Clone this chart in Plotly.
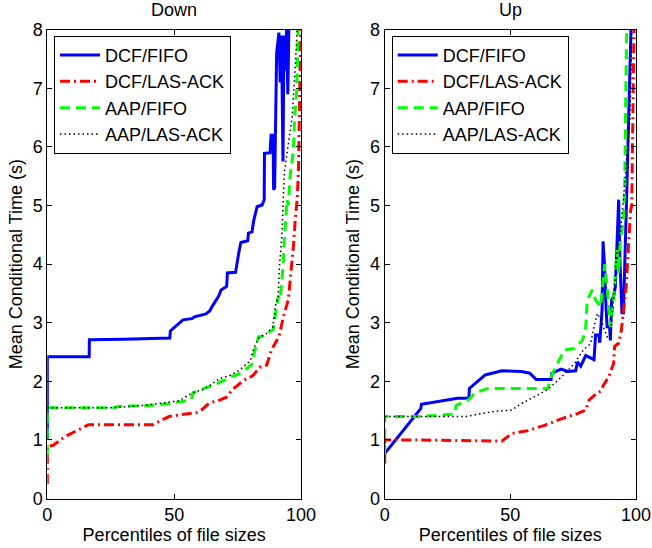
import plotly.graph_objects as go

# ---------------- Data: mean conditional time vs. file-size percentile ----------------
series_names = ["DCF/FIFO", "DCF/LAS-ACK", "AAP/FIFO", "AAP/LAS-ACK"]
panel_titles = ["Down", "Up"]
x_ticks = [0, 50, 100]
y_ticks = [0, 1, 2, 3, 4, 5, 6, 7, 8]

# Down direction
down_dcf_fifo_x = [0, 0, 16.5, 16.6, 30, 48.3, 48.5, 51, 53.5, 57, 58, 62.5, 64, 65, 66.5, 67.5, 68.5,
                   70.7, 71, 74.2, 75.5, 76.3, 79, 79.3, 80.7, 81.3, 82.7, 84.7, 85.5, 85.6, 87.8, 88.2,
                   89.0, 89.2, 89.6, 90.4, 91.3, 91.8, 92.3, 92.9, 93.3, 93.8, 94.3, 94.8, 95.2]
down_dcf_fifo_y = [1.0, 2.42, 2.42, 2.71, 2.72, 2.74, 2.86, 2.95, 3.05, 3.07, 3.1, 3.15, 3.2, 3.28, 3.38,
                   3.45, 3.56, 3.62, 3.85, 3.86, 4.2, 4.37, 4.4, 4.53, 4.55, 4.73, 4.98, 5.01, 5.1, 5.89,
                   5.9, 6.2, 6.2, 5.27, 5.3, 7.6, 7.95, 7.1, 7.9, 5.75, 7.9, 7.3, 8.0, 6.9, 8.0]

down_dcf_las_x = [0, 0, 2.4, 5, 8, 11, 14, 16.2, 30, 41.7, 45, 48, 52.2, 57, 59, 61.4, 63, 65.4, 68,
                  70.6, 72, 73.2, 75, 77.1, 79, 81.1, 83.7, 86.5, 88.4, 90.5, 91.7, 93, 95, 96, 97,
                  97.8, 98.5, 99, 99.4, 99.7, 99.9]
down_dcf_las_y = [0.25, 0.89, 0.91, 1.0, 1.08, 1.15, 1.22, 1.26, 1.26, 1.26, 1.34, 1.4, 1.43, 1.45,
                  1.47, 1.53, 1.6, 1.65, 1.68, 1.73, 1.8, 1.87, 1.93, 2.01, 2.05, 2.1, 2.24, 2.28,
                  2.54, 2.7, 2.82, 3.1, 3.39, 3.8, 4.3, 4.8, 5.1, 5.6, 6.5, 7.3, 8.0]

down_aap_fifo_x = [0, 0, 10, 26, 28, 31, 37.8, 40, 44.4, 48, 52.2, 55, 56.8, 57.5, 60, 62.8, 66, 68.1,
                   70, 72, 74, 76, 78, 80.5, 81.9, 83.2, 85, 86.4, 89, 90.3, 91, 91.8, 92.9, 93.6,
                   94.5, 95, 95.7, 97, 97.5, 98.3, 98.9]
down_aap_fifo_y = [0.75, 1.55, 1.55, 1.55, 1.57, 1.58, 1.58, 1.59, 1.6, 1.62, 1.65, 1.67, 1.7, 1.81,
                   1.84, 1.9, 1.93, 1.99, 2.02, 2.07, 2.1, 2.14, 2.2, 2.28, 2.54, 2.76, 2.77, 2.82,
                   2.88, 3.22, 3.45, 3.39, 3.96, 4.53, 5.1, 5.0, 5.5, 5.93, 6.5, 6.95, 8.0]

down_aap_las_x = [0, 26, 40, 48, 52, 57, 62, 68, 72, 76, 80, 81.5, 83.7, 86, 88.9, 90, 91, 91.5, 92.5,
                  93, 93.5, 95.5, 96.5, 97.5, 98.5]
down_aap_las_y = [1.55, 1.55, 1.6, 1.64, 1.67, 1.8, 1.87, 2.05, 2.1, 2.2, 2.35, 2.58, 2.76, 2.8, 2.93,
                  3.3, 3.45, 3.96, 4.5, 5.1, 5.58, 6.2, 6.5, 7.2, 8.0]

# Up direction
up_dcf_fifo_x = [0, 14.4, 14.6, 29, 33.5, 33.7, 40, 46.6, 54.4, 57.7, 60.3, 66.2, 66.5, 70.2, 72.8, 76,
                 76.7, 78, 80, 83.3, 83.9, 85.2, 85.6, 86.5, 86.9, 87.5, 88, 88.5, 89.5, 89.8, 90.3,
                 91.1, 91.8, 92.4, 93.1, 93.6, 94.4, 95, 95.6, 96.0, 96.5, 97.0, 97.5, 98.0]
up_dcf_fifo_y = [0.77, 1.54, 1.61, 1.71, 1.71, 1.88, 2.11, 2.18, 2.17, 2.14, 2.03, 2.03, 2.14, 2.21,
                 2.17, 2.18, 2.33, 2.26, 2.44, 2.37, 2.79, 2.79, 2.66, 3.22, 4.39, 3.96, 3.33, 2.93,
                 2.93, 2.7, 3.39, 3.45, 3.62, 4.27, 5.1, 4.07, 3.17, 3.17, 3.96, 4.7, 5.5, 6.37, 7.5,
                 8.0]

up_dcf_las_x = [0, 0, 13.7, 30, 46.6, 50.5, 57, 63.6, 70.2, 76.7, 80, 81.3, 84.5, 85.9, 87.1, 89.2,
                91.1, 91.5, 93.1, 94.2, 95, 96.1, 97, 97.9, 98.3, 98.9, 99.2]
up_dcf_las_y = [0.6, 1.0, 1.0, 0.99, 0.98, 1.11, 1.16, 1.25, 1.36, 1.45, 1.51, 1.68, 1.8, 1.83, 1.94,
                2.08, 2.31, 2.6, 2.65, 2.88, 3.22, 3.62, 4.3, 4.93, 5.0, 7.5, 8.0]

up_aap_fifo_x = [0, 0, 14, 27.6, 28.5, 33.5, 36.1, 41.4, 50.5, 64.9, 66.5, 69.5, 71.5, 75.4, 78.7, 80,
                 80.6, 82.6, 83.9, 85.9, 87.2, 87.6, 88.5, 89.2, 89.8, 91.1, 92.4, 93.1, 93.7, 95,
                 95.5, 95.8, 96.3]
up_aap_fifo_y = [0.75, 1.4, 1.4, 1.44, 1.59, 1.69, 1.81, 1.88, 1.88, 1.88, 2.11, 2.36, 2.54, 2.56,
                 2.7, 2.93, 3.39, 3.56, 3.39, 3.27, 3.9, 4.0, 3.62, 3.2, 2.93, 3.39, 4.24, 3.85, 4.36,
                 4.75, 5.3, 6.5, 8.0]

up_aap_las_x = [0, 32, 36, 44, 50.5, 54.4, 59.7, 64.9, 70, 75.4, 79.3, 81.9, 83.3, 84.6, 86, 88.5,
                89.8, 91.1, 92.4, 93.7, 95, 96, 97.6, 98.3]
up_aap_las_y = [1.4, 1.4, 1.43, 1.49, 1.51, 1.62, 1.74, 1.86, 2.06, 2.3, 2.55, 2.64, 2.93, 3.16, 3.05,
                2.76, 2.8, 3.39, 4.24, 4.53, 5.1, 5.6, 6.5, 8.0]

# ---------------- Styling ----------------
FONT = "Liberation Sans, Arial, Helvetica, sans-serif"
FS = 18
styles = [
    dict(color="#0000ff", width=3, dash="solid"),
    dict(color="#ff0000", width=3, dash="10px,4px,2px,4px"),
    dict(color="#00ff00", width=3, dash="10px,6px"),
    dict(color="#000000", width=1.5, dash="1.5px,3px"),
]

panels = [
    ("x", "y", "legend", [(down_dcf_fifo_x, down_dcf_fifo_y), (down_dcf_las_x, down_dcf_las_y),
                          (down_aap_fifo_x, down_aap_fifo_y), (down_aap_las_x, down_aap_las_y)]),
    ("x2", "y2", "legend2", [(up_dcf_fifo_x, up_dcf_fifo_y), (up_dcf_las_x, up_dcf_las_y),
                             (up_aap_fifo_x, up_aap_fifo_y), (up_aap_las_x, up_aap_las_y)]),
]

fig = go.Figure()
for xa, ya, leg, curves in panels:
    for name, (xs, ys), st in zip(series_names, curves, styles):
        fig.add_trace(go.Scatter(
            x=xs, y=ys, mode="lines", name=name, line=st,
            xaxis=xa, yaxis=ya, legend=leg, showlegend=True,
        ))

W, H = 652, 548
left_dom = [47.3 / W, 301.0 / W]
# right panel ends a few px short of the page edge so the "100" label stays inside
right_dom = [384.7 / W, 636.0 / W]
y_dom = [1 - 498.6 / H, 1 - 29.7 / H]

axis_common = dict(
    showline=True, linecolor="black", linewidth=1, mirror="ticks",
    ticks="inside", ticklen=5, tickcolor="black", tickwidth=1,
    showgrid=False, zeroline=False, automargin=False,
    ticklabeloverflow="allow",
    tickfont=dict(family=FONT, size=FS, color="black"),
)

xaxis_common = dict(axis_common, range=[0, 100], tickvals=x_ticks,
                    title=dict(text="Percentiles of file sizes",
                               font=dict(family=FONT, size=FS, color="black"), standoff=0))
yaxis_common = dict(axis_common, range=[0, 8], tickvals=y_ticks,
                    title=dict(text="Mean Conditional Time (s)",
                               font=dict(family=FONT, size=FS, color="black"), standoff=5))

legend_common = dict(
    bgcolor="white", bordercolor="black", borderwidth=1,
    font=dict(family=FONT, size=FS, color="black"),
    xanchor="left", yanchor="top", itemwidth=40, tracegroupgap=0,
)

fig.update_layout(
    width=W, height=H,
    margin=dict(l=0, r=0, t=0, b=0),
    template="none",
    paper_bgcolor="white", plot_bgcolor="white",
    font=dict(family=FONT, size=FS, color="black"),
    xaxis=dict(xaxis_common, domain=left_dom, anchor="y"),
    yaxis=dict(yaxis_common, domain=y_dom, anchor="x"),
    xaxis2=dict(xaxis_common, domain=right_dom, anchor="y2"),
    yaxis2=dict(yaxis_common, domain=y_dom, anchor="x2"),
    legend=dict(legend_common, x=54 / W, y=1 - 35.7 / H),
    legend2=dict(legend_common, x=391.7 / W, y=1 - 35.7 / H),
    annotations=[
        dict(text=panel_titles[0], x=sum(left_dom) / 2, y=1 - 10 / H, xref="paper", yref="paper",
             showarrow=False, xanchor="center", yanchor="middle",
             font=dict(family=FONT, size=FS, color="black")),
        dict(text=panel_titles[1], x=sum(right_dom) / 2, y=1 - 10 / H, xref="paper", yref="paper",
             showarrow=False, xanchor="center", yanchor="middle",
             font=dict(family=FONT, size=FS, color="black")),
    ],
)

fig.write_html("out.html")
